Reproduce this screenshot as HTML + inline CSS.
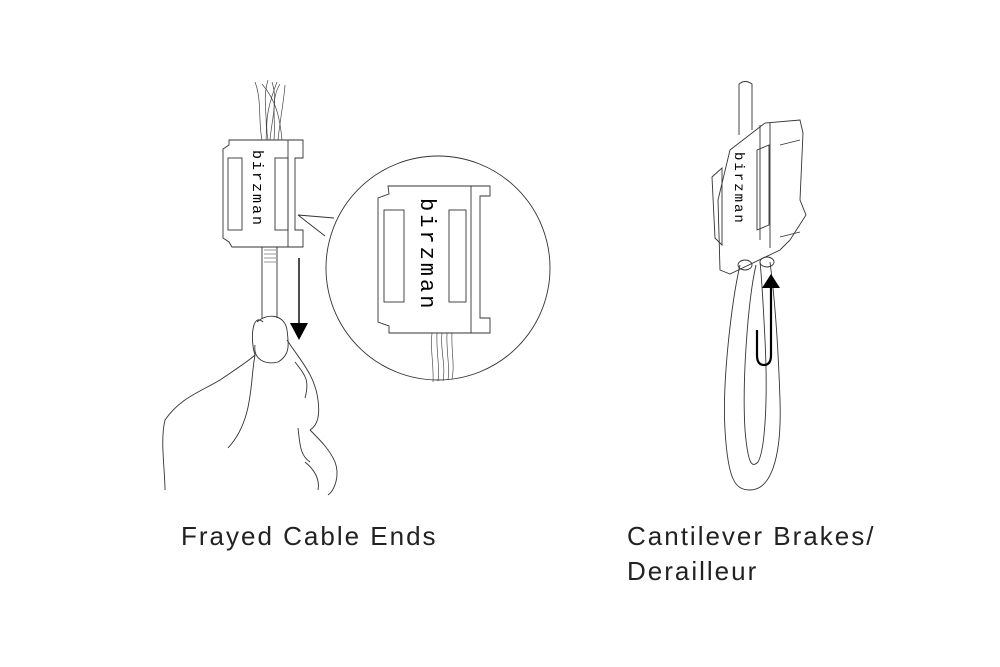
<!DOCTYPE html>
<html><head><meta charset="utf-8"><style>
html,body{margin:0;padding:0;background:#fff;}
.t{position:absolute;font-family:"Liberation Sans",sans-serif;font-size:26px;color:#222;letter-spacing:2px;}
</style></head><body>
<div style="position:relative;width:1000px;height:667px;overflow:hidden">
<svg width="1000" height="667" viewBox="0 0 1000 667" style="position:absolute;left:0;top:0" fill="none" stroke="#333" stroke-width="0.9">
<g stroke="#444" stroke-width="0.7">
<path d="M262 140 C258 120 262 100 255 82"/><path d="M266 140 C268 115 262 100 268 80"/>
<path d="M270 140 C272 118 278 100 272 82"/><path d="M274 140 C276 118 270 100 280 84"/>
<path d="M278 140 C280 120 284 100 285 85"/><path d="M282 140 C280 118 276 100 262 84"/>
<path d="M268 140 C264 120 270 100 277 82"/>
</g>
<path d="M262 247 V318 M277 247 V318"/>
<path d="M264 250 H276 M264 254 H276 M264 258 H276 M264 262 H276" stroke-width="0.5"/>
<path d="M229 140 H303 V158 H295 V230 H303 V247 H232 L229 242 L223 238 V149 L229 145 Z"/>
<path d="M288 140 V247"/>
<rect x="228" y="158" width="14" height="72"/>
<rect x="275" y="158" width="13" height="72"/>
<text x="253" y="150" transform="rotate(90 253 150)" font-family="Liberation Mono,monospace" font-size="15" fill="#000" stroke="none" letter-spacing="2">birzman</text>
<path d="M299 258 V326" stroke="#000" stroke-width="1.4"/>
<path d="M290 323 H308 L299 340 Z" fill="#000" stroke="none"/>
<circle cx="438" cy="268" r="112"/>
<path d="M298 215 L334 218 M298 215 L325 236"/>
<path d="M388 186 H490 V196 H480 V318 H490 V333 H389 L389 326 L378 322 V198 L389 194 Z" fill="#fff"/>
<path d="M471 186 V333"/>
<rect x="384" y="210" width="20" height="92"/>
<rect x="449" y="210" width="17" height="92"/>
<text x="421" y="198" transform="rotate(90 421 198)" font-family="Liberation Mono,monospace" font-size="22" fill="#000" stroke="none" letter-spacing="3">birzman</text>
<g stroke-width="0.6"><path d="M432 333 C430 350 434 365 433 382"/><path d="M437 333 C436 352 440 365 438 381"/><path d="M442 333 C440 350 446 365 443 381"/><path d="M447 333 C446 350 450 365 448 380"/><path d="M452 333 C451 350 455 365 452 379"/></g>
<path d="M263 322 C252 312 250 340 255 355 C250 360 235 370 220 380 C200 392 180 398 165 420 C160 440 165 470 165 490"/>
<path d="M255 355 C250 380 254 420 228 448"/>
<path d="M257 322 C268 312 285 315 287 330 C289 345 290 355 278 362 C266 365 253 360 255 345"/>
<path d="M287 340 C300 360 315 375 318 400 C320 415 318 425 310 430"/>
<path d="M295 362 C305 375 310 380 305 398"/>
<path d="M310 430 C320 440 330 450 335 462 C340 475 335 490 328 495"/>
<path d="M298 428 C300 445 300 455 310 462"/>
<path d="M305 462 C315 470 320 480 318 490"/>
<path d="M739 135 V84 Q745 79 752 84 V130"/>
<path d="M730 150 L765 123 L800 120 L803 133 L800 200 L806 215 L790 240 L780 250 L730 274 L720 270 L718 200 Z"/>
<path d="M760 125 L760 240 M770 123 L770 248"/>
<path d="M712 177 L722 168 L722 245 L715 238 Z"/>
<path d="M757 150 L769 145 V225 L757 230 Z"/>
<path d="M780 145 L800 140 M780 237 L800 232"/>
<text x="735" y="152" transform="rotate(90 735 152)" font-family="Liberation Mono,monospace" font-size="14" fill="#000" stroke="none" letter-spacing="2">birzman</text>
<path d="M740 265 C732 300 722 380 725 430 C728 480 735 490 750 490 C770 490 782 460 780 400 C778 340 775 300 770 262"/>
<path d="M756 265 C748 300 742 380 745 430 C748 465 752 468 758 462 C765 450 768 400 765 340 C763 300 762 280 760 262"/>
<ellipse cx="745" cy="265" rx="7" ry="5"/><ellipse cx="767" cy="262" rx="7" ry="5"/>
<path d="M757 330 V355 Q757 365 764 365 Q771 365 771 355 V285" stroke="#000" stroke-width="2.2"/>
<path d="M762 288 L771 274 L780 288 Z" fill="#000" stroke="none"/>
</svg>
<div class="t" style="left:181px;top:521px">Frayed Cable Ends</div>
<div class="t" style="left:627px;top:521px">Cantilever Brakes/</div>
<div class="t" style="left:627px;top:556px">Derailleur</div>
</div>
</body></html>
